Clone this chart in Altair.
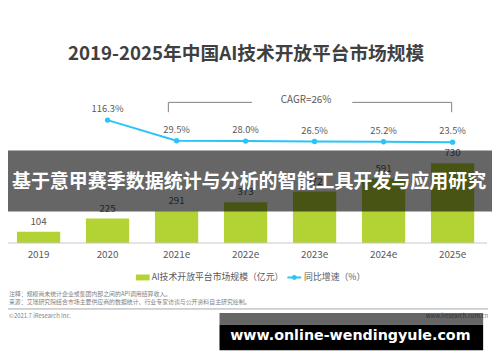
import altair as alt
import pandas as pd

years = ["2019", "2020", "2021e", "2022e", "2023e", "2024e", "2025e"]
market = [104, 225, 291, 373, 472, 591, 730]
growth_years = ["2020", "2021e", "2022e", "2023e", "2024e", "2025e"]
growth = [116.3, 29.5, 28.0, 26.5, 25.2, 23.5]

title_text = "2019-2025年中国AI技术开放平台市场规模"
cagr_text = "CAGR=26%"
legend_bar = "AI技术开放平台市场规模（亿元）"
legend_line = "同比增速（%）"
note1 = "注释：规模尚未统计企业或集团内部之间的API调用结算收入。"
note2 = "来源：艾瑞研究院结合市场主要供应商的数据统计、行业专家访谈与公开资料自主研究绘制。"
copyright_text = "©2021.7 iResearch Inc."
site_text = "www.iresearch.com.cn"
banner_text = "基于意甲赛季数据统计与分析的智能工具开发与应用研究"
watermark_text = "www.online-wendingyule.com"

FONT = "Noto Sans CJK SC"
GREEN = "#b3d334"
BLUE = "#29c5f6"
GRAY = "#595959"
OFF = 8  # page margin

bars_df = pd.DataFrame({"year": years, "value": market})
line_df = pd.DataFrame({"year": growth_years, "rate": growth,
                        "label": [f"{g:.1f}%" for g in growth]})
one = pd.DataFrame({"a": [0]})

xscale = alt.Scale(domain=years, range=[-4, 487], paddingInner=0.373, paddingOuter=0.1865)
x_enc = alt.X("year:N", scale=xscale, sort=years, axis=None)
ybar = alt.Y("value:Q", scale=alt.Scale(domain=[0, 730], range=[236, 155]), axis=None)

bars = alt.Chart(bars_df).mark_bar(color=GREEN).encode(x=x_enc, y=ybar)
bar_labels = alt.Chart(bars_df).mark_text(font=FONT, fontSize=10, color=GRAY, dy=-10).encode(
    x=x_enc, y=ybar, text="value:Q")
year_labels = alt.Chart(bars_df).mark_text(font=FONT, fontSize=10, color=GRAY).encode(
    x=x_enc, y=alt.value(256 - OFF), text="year:N")

yline = alt.Y("rate:Q", scale=alt.Scale(domain=[23.5, 116.3], range=[133.45, 111]), axis=None)
line = alt.Chart(line_df).mark_line(color=BLUE, strokeWidth=2,
                                    point=alt.OverlayMarkDef(color=BLUE, size=30, opacity=1)).encode(
    x=x_enc, y=yline)
line_labels = alt.Chart(line_df).mark_text(font=FONT, fontSize=9.5, color=GRAY, dy=-11).encode(
    x=x_enc, y=yline, text="label:N")


def txt(text, x, y, size, color=GRAY, align="center", weight="normal", baseline="middle", font=FONT):
    return alt.Chart(one).mark_text(text=text, font=font, fontSize=size, color=color, align=align,
                                    fontWeight=weight, baseline=baseline).encode(
        x=alt.value(x - OFF), y=alt.value(y - OFF))


def rule(x1, y1, x2, y2, color="#808080", w=1):
    return alt.Chart(one).mark_rule(color=color, strokeWidth=w).encode(
        x=alt.value(x1 - OFF), x2=alt.value(x2 - OFF), y=alt.value(y1 - OFF), y2=alt.value(y2 - OFF))


def rect(x1, y1, x2, y2, color, opacity=1.0):
    return alt.Chart(one).mark_rect(color=color, opacity=opacity).encode(
        x=alt.value(x1 - OFF), x2=alt.value(x2 - OFF), y=alt.value(y1 - OFF), y2=alt.value(y2 - OFF))


decor = [
    rule(8, 244, 495, 244, color="#c8c8c8"),
    txt(title_text, 250, 52, 19, color="#404040", weight="bold"),
    rule(171, 101, 256, 101), rule(171, 101, 171, 111),
    rule(358, 101, 459, 101), rule(459, 101, 459, 111),
    txt(cagr_text, 311, 99, 10),
    rect(138, 276, 152, 282, GREEN),
    txt(legend_bar, 154, 279, 9, align="left"),
    rule(292, 279, 306, 279, color=BLUE, w=2),
    alt.Chart(one).mark_point(filled=True, color=BLUE, size=25, opacity=1).encode(
        x=alt.value(299 - OFF), y=alt.value(279 - OFF)),
    txt(legend_line, 309, 279, 9, align="left"),
    txt(note1, 9, 296, 6, color="#7f7f7f", align="left"),
    txt(note2, 9, 304, 6, color="#7f7f7f", align="left"),
    rule(8, 311, 496, 311, color="#a6a6a6"),
    txt(copyright_text, 9, 318, 6, color="#7f7f7f", align="left"),
    txt(site_text, 496, 318, 6, color="#7f7f7f", align="right"),
]

overlay = [
    rect(0, 150, 500, 212, "#000000", 0.6),
    txt(banner_text, 253, 182, 19.3, color="#ffffff", weight="bold"),
    rect(223, 315, 491, 327, "#000000", 0.6),
    rect(223, 327, 491, 353, "#000000"),
    txt(watermark_text, 356, 339, 14.5, color="#ffffff", weight="bold", font="DejaVu Sans"),
]

chart = alt.layer(bars, bar_labels, year_labels, line, line_labels, *decor, *overlay).resolve_scale(
    y="independent").properties(
    width=492, height=354, padding=0, autosize=alt.AutoSizeParams(type="none"),
    background="#ffffff").configure_view(stroke=None)

chart.save("out.html", embed_options={"renderer": "svg", "actions": False})
